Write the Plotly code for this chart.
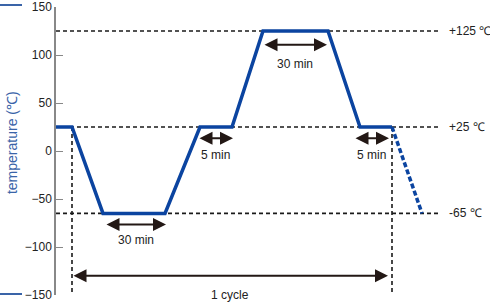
import plotly.graph_objects as go

# ---- data ----
time = [0, 16, 47, 109, 144, 176, 207, 272, 304, 336]
temp = [25, 25, -65, -65, 25, 25, 125, 125, 25, 25]
next_time = [336, 366]
next_temp = [25, -65]

levels = [125, 25, -65]
level_labels = ["+125 ℃", "+25 ℃", "-65 ℃"]
level_line_end = 384
level_label_x = 391

cycle_bounds = [16, 336]

# duration arrows: (start, end, y, label, label_y)
arrow_starts = [49, 142, 207, 298, 16]
arrow_ends = [110, 177, 271, 333, 332]
arrow_y = [-76.5, 13.4, 110.7, 13.4, -130]
arrow_labels = ["30 min", "5 min", "30 min", "5 min", "1 cycle"]
arrow_label_y = [-93, -4, 91, -4, -150]

y_ticks = [150, 100, 50, 0, -50, -100, -150]

BLUE = "#0b44a0"
TITLE_BLUE = "#3a64a8"
FONT = "Liberation Sans, Arial, sans-serif"

fig = go.Figure()

# horizontal dashed level lines
for lv in levels:
    fig.add_trace(go.Scatter(x=[0, level_line_end], y=[lv, lv], mode="lines",
                             line=dict(color="#1a1a1a", width=1.6, dash="4px,3px"),
                             hoverinfo="skip", showlegend=False))
# vertical dashed cycle bounds
for cb in cycle_bounds:
    fig.add_trace(go.Scatter(x=[cb, cb], y=[25, -150], mode="lines",
                             line=dict(color="#1a1a1a", width=1.6, dash="4px,3px"),
                             hoverinfo="skip", showlegend=False, cliponaxis=False))

# temperature profile
fig.add_trace(go.Scatter(x=time, y=temp, mode="lines",
                         line=dict(color=BLUE, width=3.5),
                         hoverinfo="skip", showlegend=False, cliponaxis=False))
fig.add_trace(go.Scatter(x=next_time, y=next_temp, mode="lines",
                         line=dict(color=BLUE, width=3.5, dash="5px,2.5px"),
                         hoverinfo="skip", showlegend=False))

annotations = []
for lv, lab in zip(levels, level_labels):
    annotations.append(dict(x=level_label_x, y=lv, xref="x", yref="y", text=lab,
                            showarrow=False, xanchor="left", yanchor="middle",
                            font=dict(family=FONT, size=12, color="#222")))
for s, e, y, lab, ly in zip(arrow_starts, arrow_ends, arrow_y, arrow_labels, arrow_label_y):
    annotations.append(dict(x=e, y=y, ax=s, ay=y, xref="x", yref="y", axref="x", ayref="y",
                            text="", showarrow=True, arrowside="end+start", arrowhead=2,
                            arrowsize=1.3, arrowwidth=2, arrowcolor="#231815",
                            standoff=0, startstandoff=0))
    annotations.append(dict(x=(s + e) / 2, y=ly, xref="x", yref="y", text=lab,
                            showarrow=False, xanchor="center", yanchor="middle",
                            font=dict(family=FONT, size=12, color="#222")))

# y axis title (placed as rotated text, as in the original)
annotations.append(dict(x=-44 / 434, y=153 / 290, xref="paper", yref="paper",
                        text="temperature (℃)", textangle=-90, showarrow=False,
                        xanchor="center", yanchor="middle",
                        font=dict(family=FONT, size=14, color=TITLE_BLUE)))

shapes = []
for yy in [292 / 290, 1 / 290]:
    shapes.append(dict(type="line", xref="paper", yref="paper", x0=-56 / 434, x1=-34 / 434,
                       y0=yy, y1=yy, line=dict(color=TITLE_BLUE, width=2)))

fig.update_layout(
    width=490, height=302,
    margin=dict(l=56, r=0, t=5, b=7),
    paper_bgcolor="white", plot_bgcolor="white",
    font=dict(family=FONT, size=12, color="#222"),
    annotations=annotations, shapes=shapes,
    xaxis=dict(range=[0, 434], visible=False, showgrid=False, zeroline=False),
    yaxis=dict(range=[-150, 150], tickvals=y_ticks, ticks="inside", ticklen=7,
               tickcolor="#888", showline=True, linecolor="#888", linewidth=1.5,
               showgrid=False, zeroline=False, ticklabeloverflow="allow",
               tickfont=dict(family=FONT, size=12, color="#222")),
)

fig.write_html("out.html")
